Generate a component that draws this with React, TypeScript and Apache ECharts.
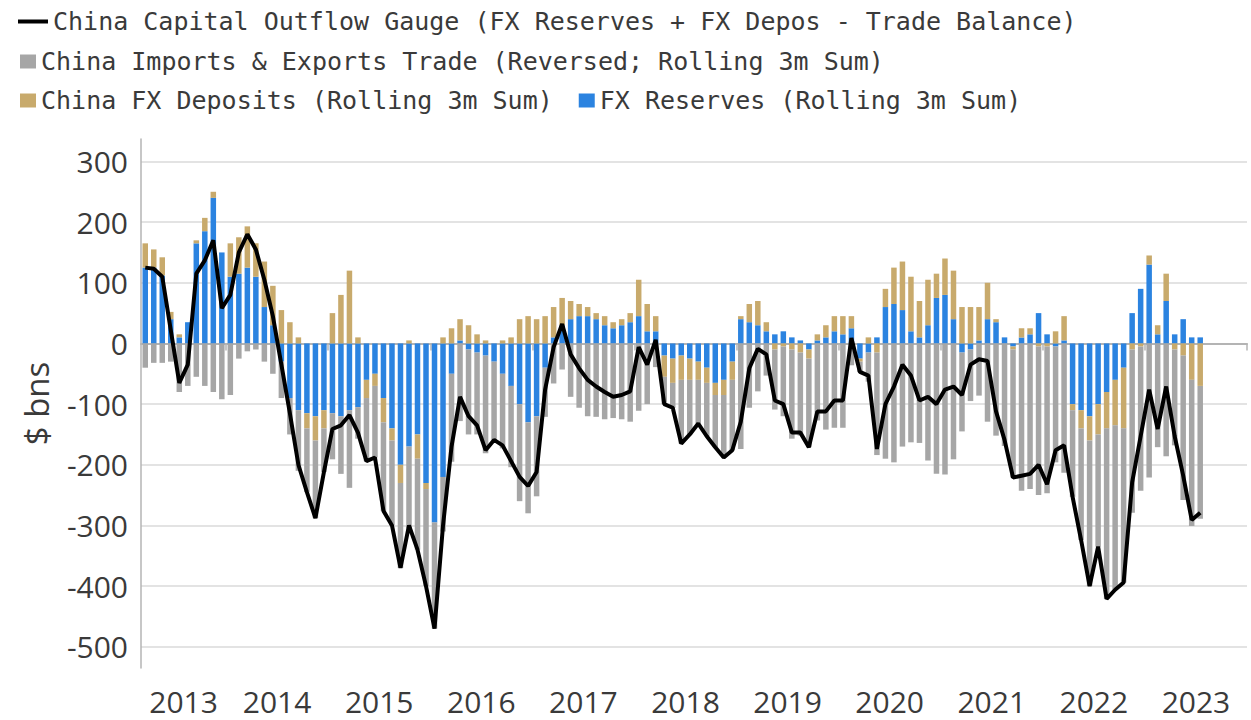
import React, { useEffect, useRef } from "react";
import * as echarts from "echarts";

// Months Mar 2013 .. Dec 2023 (data runs to Jul 2023)
const years = [2013, 2014, 2015, 2016, 2017, 2018, 2019, 2020, 2021, 2022, 2023];
const monthNames = ["Jan", "Feb", "Mar", "Apr", "May", "Jun", "Jul", "Aug", "Sep", "Oct", "Nov", "Dec"];
const categories: string[] = [];
years.forEach((y) =>
  monthNames.forEach((m, k) => {
    if (y === 2013 && k < 2) return;
    categories.push(m + " " + y);
  })
);

// FX Reserves (rolling 3m sum), $bn
const fxReserves = [
  125, 125, 112, 40, 10, 35, 165, 185, 240, 150,
  110, 115, 125, 110, 60, 30, -30, -90, -110, -115, -120, -110,
  -115, -120, -110, -105, -60, -50, -90, -140, -200, -170, -150, -230,
  -295, -220, -50, 5, -10, -15, -20, -30, -50, -70, -100, -130,
  -120, -40, 10, 30, 40, 45, 45, 40, 30, 25, 30, 35,
  45, 20, 20, -20, -25, -20, -25, -30, -40, -65, -60, -30,
  40, 35, 30, 20, 15, 20, 10, 5, -10, 5, 10, 20,
  15, 25, -25, -15, 10, 60, 65, 55, 20, 10, 30, 75,
  80, 40, -15, -10, 5, 40, 35, 10, -5, 10, 15, 50,
  15, -5, 5, -100, -110, -120, -100, -80, -60, -40, 50, 90,
  130, 15, 70, 15, 40, 10, 10,
];

// China FX Deposits (rolling 3m sum), $bn
const fxDeposits = [
  40, 30, 30, 12, 5, 0, 5, 22, 10, 0,
  55, 60, 68, 55, 75, 65, 55, 35, 10, -25, -40, -30,
  50, 80, 120, 10, -30, -20, -40, -20, -30, 5, -40, -10,
  0, 10, 25, 35, 30, 15, 5, 0, 5, 10, 40, 45,
  40, 45, 50, 45, 30, 20, 15, 10, 15, 10, 10, 15,
  60, 45, 25, -35, -40, -40, -35, -30, -25, -20, -25, -30,
  5, 30, 40, 15, -10, -5, -10, -15, -15, 10, 20, 25,
  30, 20, -5, 10, -15, 30, 60, 80, 90, 60, 75, 40,
  60, 80, 60, 60, 55, 60, 5, 0, -5, 15, 10, -5,
  -5, 20, 40, -10, -30, -40, -50, -60, -75, -100, -10, -5,
  15, 15, 45, -10, -20, -60, -70,
];

// China Imports & Exports Trade (reversed; rolling 3m sum), $bn
const tradeReversed = [
  -40, -32, -32, -30, -80, -70, -55, -70, -80, -92,
  -85, -25, -13, -10, -30, -50, -60, -60, -100, -105, -128, -72,
  -76, -95, -128, -52, -104, -118, -146, -140, -140, -135, -150, -160,
  -175, -90, -145, -128, -140, -135, -161, -129, -123, -134, -160, -150,
  -132, -81, -66, -43, -88, -106, -120, -121, -125, -123, -125, -129,
  -111, -100, -39, -45, -41, -105, -90, -72, -88, -86, -103, -116,
  -174, -106, -79, -53, -99, -115, -147, -137, -146, -127, -142, -139,
  -139, -36, -17, -48, -169, -190, -196, -170, -163, -164, -193, -215,
  -216, -191, -130, -85, -86, -129, -152, -169, -211, -243, -240, -245,
  -242, -191, -213, -143, -184, -240, -185, -281, -271, -254, -269, -238,
  -221, -171, -186, -158, -238, -241, -219,
];

// China Capital Outflow Gauge, $bn
const outflowGauge = [
  125, 123, 110, 22, -65, -35, 115, 137, 170, 58,
  80, 150, 180, 155, 105, 45, -35, -115, -200, -245, -288, -212,
  -141, -135, -118, -147, -194, -188, -276, -300, -370, -300, -340, -400,
  -470, -300, -170, -88, -120, -135, -176, -159, -168, -194, -220, -235,
  -212, -76, -6, 32, -18, -41, -60, -71, -80, -88, -85, -79,
  -6, -35, 6, -100, -106, -165, -150, -132, -153, -171, -188, -176,
  -129, -41, -9, -18, -94, -100, -147, -147, -171, -112, -112, -94,
  -94, 9, -47, -53, -174, -100, -71, -35, -53, -94, -88, -100,
  -76, -71, -85, -35, -26, -29, -112, -159, -221, -218, -215, -200,
  -232, -176, -168, -253, -324, -400, -335, -421, -406, -394, -229, -153,
  -76, -141, -71, -153, -218, -291, -279,
];

const NAME_LINE = "China Capital Outflow Gauge (FX Reserves + FX Depos - Trade Balance)";
const NAME_TRADE = "China Imports & Exports Trade (Reversed; Rolling 3m Sum)";
const NAME_DEPO = "China FX Deposits (Rolling 3m Sum)";
const NAME_RES = "FX Reserves (Rolling 3m Sum)";

const BLUE = "#2b83e0";
const TAN = "#c8aa6c";
const GRAY = "#a6a6a6";

// year label placed on the middle of the visible part of each year
const labelIndex = new Set<number>([4]);
for (let y = 2014; y <= 2023; y++) labelIndex.add(15 + 12 * (y - 2014));

const legendText = { fontFamily: "DejaVu Sans Mono", fontSize: 25, color: "#3a3a3a" };
const axisFont = "Open Sans";

export default function App() {
  const ref = useRef<HTMLDivElement>(null);
  useEffect(() => {
    const chart = echarts.init(ref.current as HTMLDivElement, null, { renderer: "svg" });
    chart.setOption({
      animation: false,
      backgroundColor: "#ffffff",
      legend: [
        {
          data: [{ name: NAME_LINE, icon: "rect" }],
          left: 13, top: 4, itemWidth: 30, itemHeight: 4,
          selectedMode: false, textStyle: legendText,
        },
        {
          data: [{ name: NAME_TRADE, icon: "rect" }],
          left: 15, top: 44, itemWidth: 16, itemHeight: 14,
          selectedMode: false, textStyle: legendText,
        },
        {
          data: [{ name: NAME_DEPO, icon: "rect" }, { name: NAME_RES, icon: "rect" }],
          left: 15, top: 83, itemWidth: 16, itemHeight: 14, itemGap: 26,
          selectedMode: false, textStyle: legendText,
        },
      ],
      grid: { left: 141, right: 4, top: 139, bottom: 52, containLabel: false },
      xAxis: {
        type: "category",
        data: categories,
        boundaryGap: true,
        axisLine: { show: true, lineStyle: { color: "#b4b4b4", width: 2 } },
        axisTick: {
          show: true,
          interval: (i: number) => i % 12 === 10,
          length: 7,
          lineStyle: { color: "#b4b4b4", width: 1.5 },
        },
        axisLabel: {
          interval: (i: number) => labelIndex.has(i),
          formatter: (v: string) => "{a|" + v.split(" ")[1] + "}",
          margin: 18,
          rich: {
            a: {
              padding: [0, 0, 0, 8.5],
              fontFamily: axisFont,
              fontSize: 30,
              color: "#3a3a3a",
            },
          },
        },
        splitLine: { show: false },
      },
      yAxis: {
        type: "value",
        min: -535,
        max: 337,
        splitNumber: 8,
        name: "$ bns",
        nameLocation: "middle",
        nameRotate: 90,
        nameGap: 88,
        nameTextStyle: { fontFamily: axisFont, fontSize: 33, color: "#3a3a3a" },
        axisLine: { show: true, lineStyle: { color: "#b4b4b4", width: 1.5 } },
        axisTick: { show: false },
        axisLabel: {
          showMinLabel: false,
          showMaxLabel: false,
          margin: 13,
          fontFamily: axisFont,
          fontSize: 30,
          color: "#3a3a3a",
        },
        splitLine: {
          show: true,
          showMinLine: false,
          showMaxLine: false,
          lineStyle: { color: "#dadada", width: 1.5 },
        },
      },
      series: [
        { name: NAME_RES, type: "bar", stack: "s", data: fxReserves, barWidth: 5.5, itemStyle: { color: BLUE } },
        { name: NAME_DEPO, type: "bar", stack: "s", data: fxDeposits, barWidth: 5.5, itemStyle: { color: TAN } },
        { name: NAME_TRADE, type: "bar", stack: "s", data: tradeReversed, barWidth: 5.5, itemStyle: { color: GRAY } },
        {
          name: NAME_LINE,
          type: "line",
          data: outflowGauge,
          symbol: "none",
          z: 5,
          lineStyle: { color: "#000000", width: 4 },
          itemStyle: { color: "#000000" },
        },
      ],
    });
    return () => chart.dispose();
  }, []);
  return (
    <div
      ref={ref}
      style={{ position: "fixed", left: 0, top: 0, width: 1251, height: 720, background: "#fff" }}
    />
  );
}
